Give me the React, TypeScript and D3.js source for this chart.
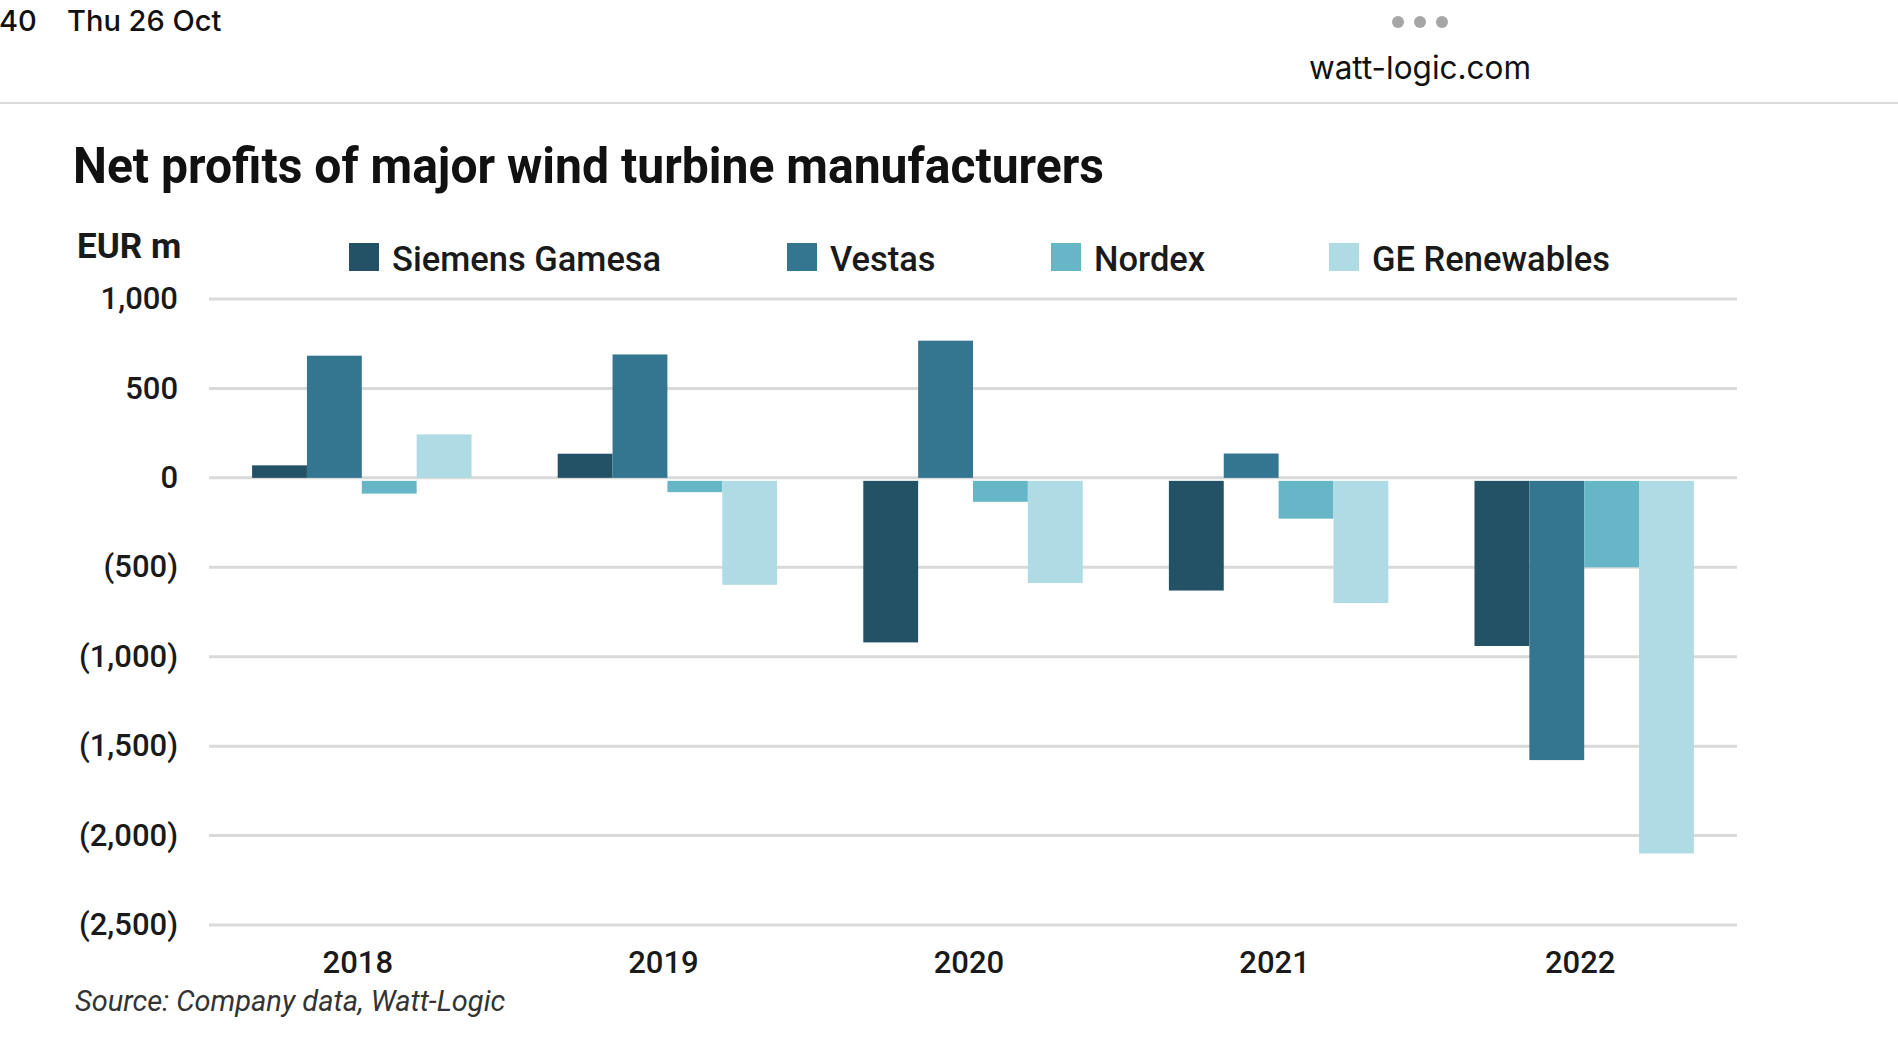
import * as d3 from 'd3'

// data (EUR m)
const years = ['2018', '2019', '2020', '2021', '2022']
const companies = ['Siemens Gamesa', 'Vestas', 'Nordex', 'GE Renewables']
const siemensGamesa = [70, 135, -920, -630, -940]
const vestas = [683, 690, 767, 136, -1578]
const nordex = [-88, -80, -134, -228, -500]
const geRenewables = [243, -598, -588, -700, -2100]
const yTicks = [1000, 500, 0, -500, -1000, -1500, -2000, -2500]

const seriesValues = [siemensGamesa, vestas, nordex, geRenewables]
const colors = ['#235266', '#347590', '#66b6c8', '#afdbe4']

const W = 1898
const H = 1056
const margin = { left: 209, right: 161, top: 299, bottom: 131 }
const legendX = [349, 787, 1051, 1329]

const fmt = (v: number) => {
  const s = d3.format(',')(Math.abs(v))
  return v < 0 ? `(${s})` : s
}

export default function App() {
  const x = d3
    .scaleBand<string>()
    .domain(years)
    .range([margin.left, W - margin.right])
  const inner = d3
    .scaleBand<string>()
    .domain(companies)
    .range([0, x.bandwidth() * 0.718])
  const groupOffset = (x.bandwidth() - x.bandwidth() * 0.718) / 2
  const y = d3
    .scaleLinear()
    .domain([-2500, 1000])
    .range([H - margin.bottom, margin.top])

  const font = 'Roboto, "Noto Sans", sans-serif'

  return (
    <svg
      width={W}
      height={H}
      style={{ position: 'absolute', left: 0, top: 0, background: '#fff' }}
    >
      <rect width={W} height={H} fill="#fff" />

      {/* status bar */}
      <text x={-1} y={31} fontFamily="Inter, sans-serif" fontWeight={500} fontSize={29} fill="#111">
        40
      </text>
      <text x={67} y={31} fontFamily="Inter, sans-serif" fontWeight={500} fontSize={29} fill="#111">
        Thu 26 Oct
      </text>
      {[-22, 0, 22].map(dx => (
        <circle key={dx} cx={1420 + dx} cy={22} r={6} fill="#a6a6a6" />
      ))}
      <text x={1420} y={79} textAnchor="middle" fontFamily="Inter, sans-serif" fontSize={31.5} fill="#111">
        watt-logic.com
      </text>
      <line x1={0} x2={W} y1={103} y2={103} stroke="#dcdcdc" strokeWidth={2} />

      {/* title */}
      <text
        x={73}
        y={183}
        fontFamily={font}
        fontWeight={700}
        fontSize={50}
        fill="#111"
        textLength={1031}
        lengthAdjust="spacingAndGlyphs"
      >
        Net profits of major wind turbine manufacturers
      </text>

      <text x={77} y={258} fontFamily={font} fontWeight={700} fontSize={35} fill="#1a1a1a">
        EUR m
      </text>

      {/* legend */}
      {companies.map((c, i) => (
        <g key={c}>
          <rect x={legendX[i]} y={243} width={30} height={28} fill={colors[i]} />
          <text x={legendX[i] + 43} y={271} fontFamily={font} fontWeight={500} fontSize={34.5} fill="#1a1a1a">
            {c}
          </text>
        </g>
      ))}

      {/* gridlines and y labels */}
      {yTicks.map(t => (
        <g key={t}>
          <line
            x1={margin.left}
            x2={W - margin.right}
            y1={y(t)}
            y2={y(t)}
            stroke="#d9d9d9"
            strokeWidth={3}
          />
          <text
            x={178}
            y={y(t) - 1}
            dy="0.36em"
            textAnchor="end"
            fontFamily={font}
            fontWeight={500}
            fontSize={31}
            fill="#1a1a1a"
          >
            {fmt(t)}
          </text>
        </g>
      ))}

      {/* bars */}
      {years.map((yr, j) => (
        <g key={yr} transform={`translate(${(x(yr) ?? 0) + groupOffset},0)`}>
          {companies.map((c, i) => {
            const v = seriesValues[i][j]
            const y0 = y(0)
            const top = v >= 0 ? y(v) : y0 + 3
            const h = v >= 0 ? y0 - y(v) : y(v) - y0 - 3
            return (
              <rect
                key={c}
                x={inner(c)}
                y={top}
                width={inner.bandwidth()}
                height={h}
                fill={colors[i]}
              />
            )
          })}
        </g>
      ))}

      {/* x labels */}
      {years.map(yr => (
        <text
          key={yr}
          x={(x(yr) ?? 0) + x.bandwidth() / 2 - 4}
          y={973}
          textAnchor="middle"
          fontFamily={font}
          fontWeight={500}
          fontSize={31}
          fill="#1a1a1a"
        >
          {yr}
        </text>
      ))}

      <text x={75} y={1011} fontFamily={font} fontStyle="italic" fontSize={29} fill="#333">
        Source: Company data, Watt-Logic
      </text>
    </svg>
  )
}
